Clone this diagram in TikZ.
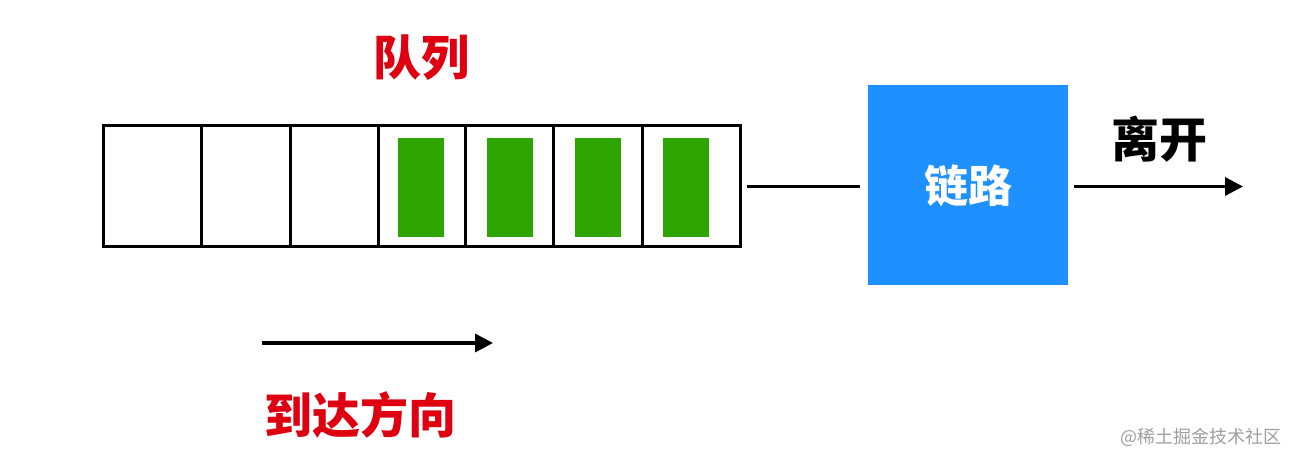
\documentclass[tikz,border=0pt]{standalone}
\usepackage{fontspec}
\newfontfamily\cjk{Noto Sans CJK SC}
\usepackage{xcolor}
\usetikzlibrary{arrows.meta,positioning}
\definecolor{pktgreen}{RGB}{46,165,0}
\definecolor{linkblue}{RGB}{30,144,255}
\definecolor{lblred}{RGB}{222,0,16}

\begin{document}
\begin{tikzpicture}[x=1pt, y=-1pt, >={Triangle[length=18pt,width=18pt]},
  cell/.style={draw, line width=3pt, minimum height=121pt, inner sep=0pt, outer sep=0pt},
  packet/.style={fill=pktgreen, minimum width=46pt, minimum height=99pt, inner sep=0pt},
  link/.style={fill=linkblue, minimum size=200pt, inner sep=0pt, text=white,
    font=\cjk\bfseries\fontsize{44}{44}\selectfont},
  wire/.style={line width=3.5pt},
  big/.style={font=\cjk\bfseries\fontsize{48}{48}\selectfont, inner sep=0pt}]
\useasboundingbox (0,0) rectangle (1296,462);
% queue cells
\foreach \xa/\xb [count=\i] in {103/201,201/290,290/378,378/465,465/553,553/642,642/740}
  \node[cell, minimum width={\xb-\xa}, anchor=west] (c\i) at (\xa,186.5) {};
% packets waiting
\foreach \x [count=\i from 4] in {420.5,510,598,686}
  \node[packet] (p\i) at (\x,187.5) {};
\node[big, text=lblred] (queue) at (421,58) {队列};
% link
\node[link] (link) at (968,185.5) {链路};
\coordinate (out) at (1243,186.5);
\draw[wire] ([xshift=7pt]c7.east) -- ([xshift=-8pt]link.west |- c7.east);
\draw[wire, ->] ([xshift=6pt]link.east |- out) -- (out);
\node[big] (leave) at (1159,139) {离开};
% arrival direction
\coordinate (arrS) at (262,343);
\coordinate (arrE) at (493,343);
\draw[wire, ->] (arrS) -- (arrE);
\node[big, text=lblred] (dir) at (360,415) {到达方向};
\node[font=\cjk\fontsize{18}{18}\selectfont, text=black!38, inner sep=0pt] (mark) at (1201,437) {@稀土掘金技术社区};
\end{tikzpicture}
\end{document}
